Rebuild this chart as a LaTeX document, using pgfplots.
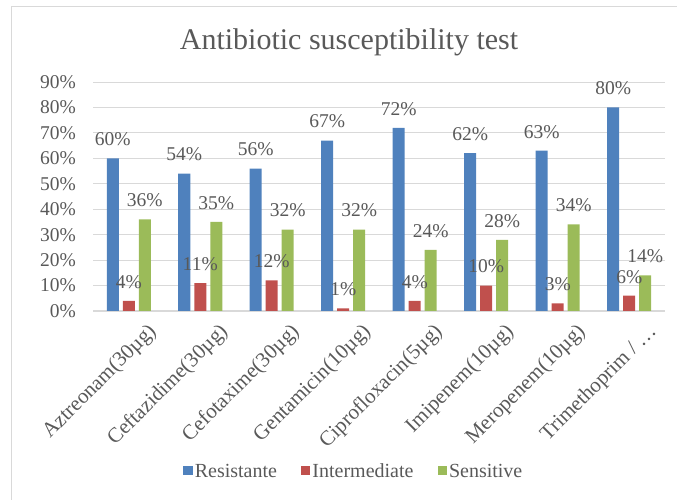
\documentclass[border=0pt]{standalone}
\usepackage{pgfplots}
\pgfplotsset{compat=1.18}
\usepackage{fontspec}
\setmainfont{Liberation Serif}
\definecolor{cblue}{HTML}{4F81BD}
\definecolor{cred}{HTML}{C0504D}
\definecolor{cgreen}{HTML}{9BBB59}
\definecolor{ctext}{HTML}{595959}
\definecolor{cgrid}{HTML}{D9D9D9}
\pgfplotsset{/pgf/number format/assume math mode=true}
\begin{document}
\begin{tikzpicture}
\useasboundingbox (0,0) rectangle (677bp,500bp);
\draw[cgrid, line width=1bp] (11bp,-20bp) -- (11bp,493bp) -- (700bp,493bp);
\node[anchor=base, text=ctext, font=\fontsize{30bp}{36bp}\selectfont, inner sep=0] at (349bp,450bp) {Antibiotic susceptibility test};
\begin{axis}[
  at={(93bp,189bp)}, anchor=south west,
  scale only axis, width=572bp, height=229bp,
  ybar=4bp, bar width=12bp,
  xmin=-0.5, xmax=7.5, ymin=0, ymax=90,
  xtick=data,
  xticklabels={Aztreonam(30µg),Ceftazidime(30µg),Cefotaxime(30µg),Gentamicin(10µg),Ciprofloxacin(5µg),Imipenem(10µg),Meropenem(10µg),Trimethoprim / …},
  ytick={0,10,...,90},
  yticklabels={0\%,10\%,20\%,30\%,40\%,50\%,60\%,70\%,80\%,90\%},
  axis x line*=bottom,
  axis y line*=left,
  y axis line style={draw=none},
  x axis line style={draw=cgrid, line width=1.5bp, -},
  ymajorgrids, grid style={draw=cgrid, line width=1bp},
  major tick length=0,
  tick style={draw=none},
  every tick label/.append style={text=ctext, font=\fontsize{19.5bp}{23bp}\selectfont},
  y tick label style={anchor=east, inner sep=0, xshift=-17bp},
  x tick label style={rotate=45, anchor=north east, inner sep=0, xshift=5bp, yshift=-20bp, font=\fontsize{21bp}{25bp}\selectfont},
  nodes near coords={\pgfmathprintnumber{\pgfplotspointmeta}\%},
  every node near coord/.append style={text=ctext, font=\fontsize{19.5bp}{23bp}\selectfont, anchor=base, inner sep=0, yshift=12.7bp},
  legend style={at={(0.456,-0.70)}, anchor=center, draw=none, fill=none,
    legend columns=-1, font=\fontsize{20bp}{24bp}\selectfont, text=ctext,
    /tikz/every even column/.append style={column sep=22bp}},
  legend image code/.code={\fill[#1] (0bp,-4bp) rectangle (9.5bp,5.5bp);},
  legend cell align=left,
  clip=false,
]
\addplot[fill=cblue, draw=none] coordinates {(0,60) (1,54) (2,56) (3,67) (4,72) (5,62) (6,63) (7,80)};
\addplot[fill=cred, draw=none] coordinates {(0,4) (1,11) (2,12) (3,1) (4,4) (5,10) (6,3) (7,6)};
\addplot[fill=cgreen, draw=none] coordinates {(0,36) (1,35) (2,32) (3,32) (4,24) (5,28) (6,34) (7,14)};
\legend{Resistante,Intermediate,Sensitive}
\end{axis}
\end{tikzpicture}
\end{document}
